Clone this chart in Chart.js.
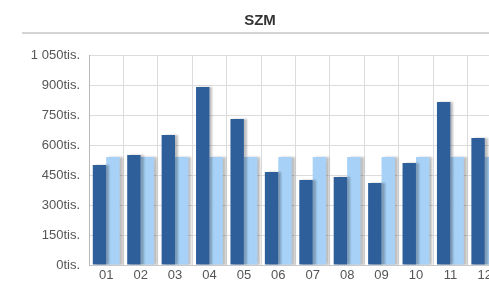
<!DOCTYPE html>
<html>
<head>
<meta charset="utf-8">
<script src="https://cdn.jsdelivr.net/npm/chart.js@4"></script>
<style>
html,body{margin:0;padding:0;background:#fff;overflow:hidden;width:489px;height:283px;}
canvas{display:block;}
</style>
</head>
<body>
<canvas id="c" width="510" height="283" style="width:510px;height:283px"></canvas>
<script>
const categories = ["01","02","03","04","05","06","07","08","09","10","11","12"];
const actualValues = [500, 550, 650, 890, 730, 465, 425, 440, 410, 510, 815, 635];
const planValues = [540, 540, 540, 540, 540, 540, 540, 540, 540, 540, 540, 540];
const chartTitle = "SZM";
const yMax = 1050;
const yStep = 75;
const yLabelStep = 150;

function fmt(v){
  const s = String(v);
  return s.length > 3 ? s.slice(0, s.length-3) + " " + s.slice(-3) : s;
}

const decor = {
  id: 'decor',
  beforeDraw(chart){
    const ctx = chart.ctx;
    ctx.save();
    ctx.fillStyle = '#fff';
    ctx.fillRect(0,0,chart.width,chart.height);
    ctx.strokeStyle = '#d4d4d4';
    ctx.lineWidth = 2;
    ctx.beginPath();
    ctx.moveTo(22, 33);
    ctx.lineTo(chart.width, 33);
    ctx.stroke();
    ctx.fillStyle = '#333';
    ctx.font = 'bold 15px "Liberation Sans", Arial, sans-serif';
    ctx.textAlign = 'center';
    ctx.textBaseline = 'middle';
    ctx.fillText(chartTitle, 260, 21);
    ctx.restore();
  },
  beforeDatasetsDraw(chart){
    const ctx = chart.ctx;
    ctx.save();
    ctx.shadowColor = 'rgba(0,0,0,0.25)';
    ctx.shadowOffsetX = 3;
    ctx.shadowOffsetY = 0;
    ctx.shadowBlur = 2;
  },
  afterDatasetsDraw(chart){
    chart.ctx.restore();
  }
};

new Chart(document.getElementById('c'), {
  type: 'bar',
  data: {
    labels: categories,
    datasets: [
      { data: actualValues, backgroundColor: '#2e5f9b', borderWidth: 0 },
      { data: planValues, backgroundColor: '#a7d1f6', borderWidth: 0 }
    ]
  },
  options: {
    responsive: false,
    animation: false,
    plugins: { legend: { display: false }, title: { display: false }, tooltip: { enabled: false } },
    layout: { padding: { top: 55, left: 0, right: 8, bottom: 0 } },
    datasets: { bar: { categoryPercentage: 0.78, barPercentage: 1.0 } },
    scales: {
      x: {
        grid: { color: '#dcdcdc', offset: true, drawTicks: false },
        border: { color: '#c8c8c8' },
        ticks: { color: '#555', font: { family: '"Liberation Sans", Arial, sans-serif', size: 13 }, padding: 3, maxRotation: 0, autoSkip: false },
        afterFit(s){ s.height = 18; }
      },
      y: {
        min: 0, max: yMax,
        grid: { color: '#dcdcdc', drawTicks: false },
        border: { color: '#b8b8b8' },
        ticks: {
          stepSize: yStep,
          color: '#555',
          font: { family: '"Liberation Sans", Arial, sans-serif', size: 13 },
          padding: 9,
          callback(v){ return v % yLabelStep === 0 ? fmt(v) + 'tis.' : ''; }
        },
        afterFit(s){ s.width = 89; }
      }
    }
  },
  plugins: [decor]
});
</script>
</body>
</html>
